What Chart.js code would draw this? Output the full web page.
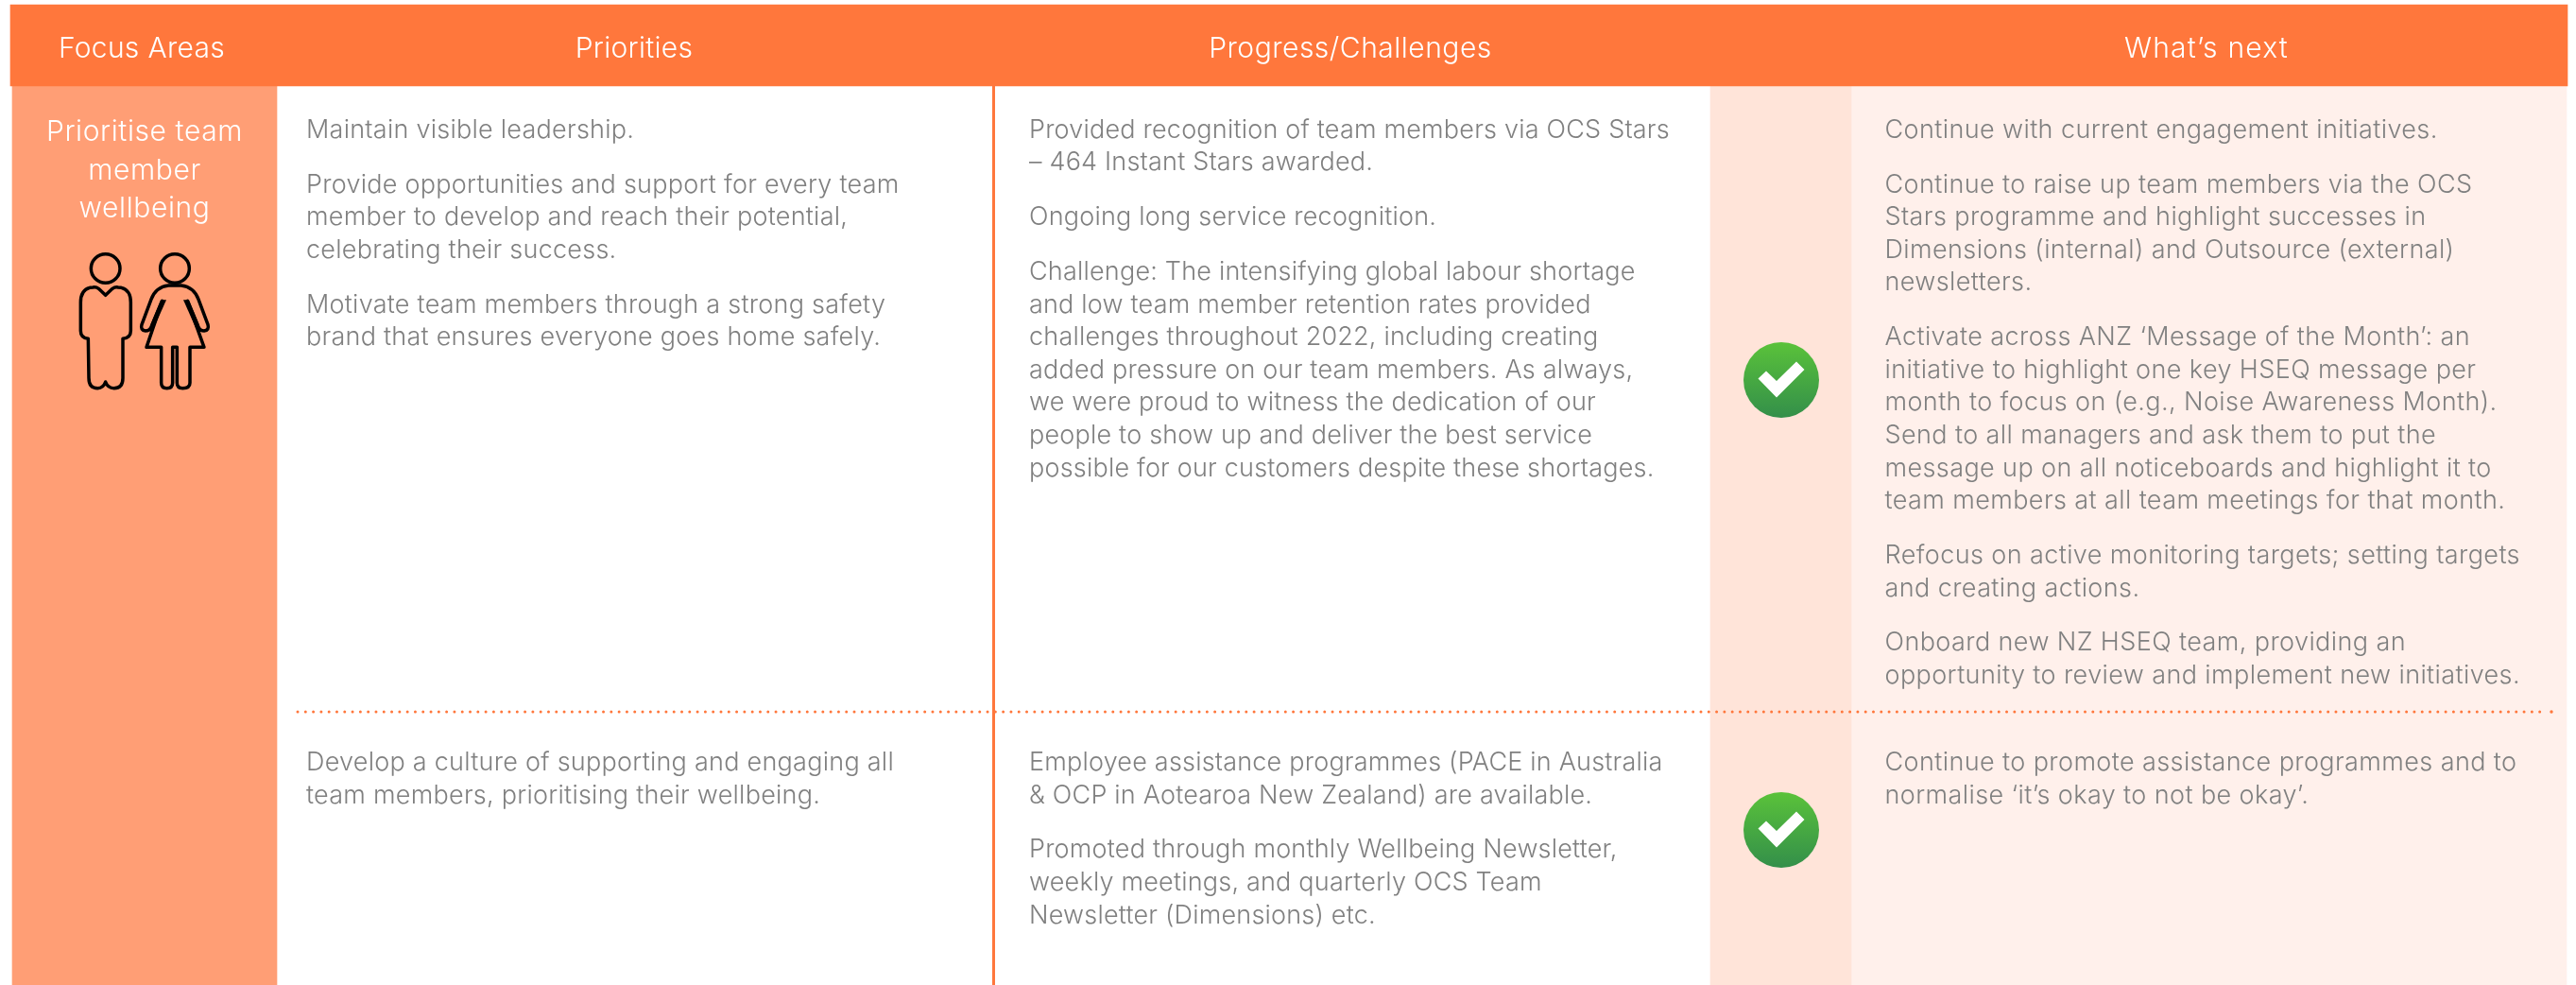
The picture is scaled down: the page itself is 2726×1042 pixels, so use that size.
<!DOCTYPE html>
<html>
<head>
<meta charset="utf-8">
<title>Focus areas</title>
<script src="https://cdn.jsdelivr.net/npm/chart.js@4"></script>
<style>
    html, body { margin: 0; padding: 0; background: #fff; }
    canvas { display: block; }
</style>
</head>
<body>
<canvas id="chart" width="2726" height="1042"></canvas>
<script>
// --- table content ---
const columnHeaders = ['Focus Areas', 'Priorities', 'Progress/Challenges', 'What’s next'];
const focusArea = ['Prioritise team', 'member', 'wellbeing'];
const ratingRows = ['row1', 'row2'];

// every cell is a list of paragraphs, every paragraph a list of lines
const prioritiesRow1 = [
    ['Maintain visible leadership.'],
    ['Provide opportunities and support for every team', 'member to develop and reach their potential,', 'celebrating their success.'],
    ['Motivate team members through a strong safety', 'brand that ensures everyone goes home safely.']
];
const prioritiesRow2 = [
    ['Develop a culture of supporting and engaging all', 'team members, prioritising their wellbeing.']
];
const progressRow1 = [
    ['Provided recognition of team members via OCS Stars', '– 464 Instant Stars awarded.'],
    ['Ongoing long service recognition.'],
    ['Challenge: The intensifying global labour shortage', 'and low team member retention rates provided', 'challenges throughout 2022, including creating', 'added pressure on our team members. As always,', 'we were proud to witness the dedication of our', 'people to show up and deliver the best service', 'possible for our customers despite these shortages.']
];
const progressRow2 = [
    ['Employee assistance programmes (PACE in Australia', '& OCP in Aotearoa New Zealand) are available.'],
    ['Promoted through monthly Wellbeing Newsletter,', 'weekly meetings, and quarterly OCS Team', 'Newsletter (Dimensions) etc.']
];
const nextRow1 = [
    ['Continue with current engagement initiatives.'],
    ['Continue to raise up team members via the OCS', 'Stars programme and highlight successes in', 'Dimensions (internal) and Outsource (external)', 'newsletters.'],
    ['Activate across ANZ ‘Message of the Month’: an', 'initiative to highlight one key HSEQ message per', 'month to focus on (e.g., Noise Awareness Month).', 'Send to all managers and ask them to put the', 'message up on all noticeboards and highlight it to', 'team members at all team meetings for that month.'],
    ['Refocus on active monitoring targets; setting targets', 'and creating actions.'],
    ['Onboard new NZ HSEQ team, providing an', 'opportunity to review and implement new initiatives.']
];
const nextRow2 = [
    ['Continue to promote assistance programmes and to', 'normalise ‘it’s okay to not be okay’.']
];

// --- layout, in picture pixels (the two scales run 0..2726 and 0..1042) ---
const WIDTH = 2726, HEIGHT = 1042;
const headerBand = { x0: 11, x1: 2717, y0: 5, y1: 91 };
const bodyBands = [
    { x0: 13, x1: 293, color: '#FF9E75' },
    { x0: 1810, x1: 1959, color: '#FFE4D9' },
    { x0: 1959, x1: 2716, color: '#FFF0EB' }
];
const headerCentres = [150, 671, 1429, 2335];
const headerSpacing = ['0.3px', '0.3px', '0.5px', '1.2px'];
const focusCentre = 153;
const focusBaselines = [149, 190, 230];
const cellCols = [
    { x: 324, spacing: '0.25px', row1: prioritiesRow1, row2: prioritiesRow2 },
    { x: 1089, spacing: '0.2px', row1: progressRow1, row2: progressRow2 },
    { x: 1994.5, spacing: '0.4px', row1: nextRow1, row2: nextRow2 }
];
const ROW1_TOP = 145.7, ROW2_TOP = 815, LINE_H = 34.6, PARA_H = 57.8;
const ratingCentres = { row1: { x: 1885, y: 402 }, row2: { x: 1885, y: 878 } };

const ORANGE = '#FF773C';
const TEXT_GREY = '#808080';
const BODY_FONT = '350 27px Inter';

// green tick badge, used as a point style
function makeBadge() {
    const c = document.createElement('canvas');
    c.width = c.height = 82;
    const g = c.getContext('2d');
    const grad = g.createLinearGradient(0, 1, 0, 81);
    grad.addColorStop(0, '#5AC23A');
    grad.addColorStop(1, '#338F4A');
    g.fillStyle = grad;
    g.beginPath();
    g.arc(41, 41, 40, 0, Math.PI * 2);
    g.fill();
    g.fillStyle = '#fff';
    g.beginPath();
    [[-24.5, -1.5], [-16, -9.5], [-5, 1], [16, -19.5], [24.5, -11], [-5, 18.5]].forEach(p => g.lineTo(41 + p[0], 41 + p[1]));
    g.closePath();
    g.fill();
    return c;
}

function floatingBar(x0, x1, y0, y1, color, label) {
    return {
        type: 'bar',
        label: label,
        data: [{ x: [x0, x1], y: (y0 + y1) / 2 }],
        backgroundColor: color,
        barThickness: y1 - y0,
        grouped: false,
        order: 3
    };
}

// people pictogram, traced at 3x in a box that starts at (70,260)
const manPath = 'M125 157 L103 136 Q95 130 85 132 L75 133 Q46 140 46 180 L46 270 Q46 292 70 295 L72 420 Q72 452 100 452 Q118 452 125 432 Q132 452 152 452 Q180 452 180 420 L180 295 Q205 292 205 270 L205 180 Q205 140 175 133 L165 132 Q155 130 147 136 Z';
const womanPath = 'M345 126 L325 126 Q285 130 270 170 L240 250 Q235 268 252 270 Q265 270 270 258 L305 175 L255 322 L302 322 L302 435 Q302 452 320 452 Q338 452 338 435 L338 322 L352 322 L352 435 Q352 452 370 452 Q393 452 393 435 L393 322 L438 322 L385 175 L420 258 Q425 270 438 270 Q455 268 450 250 L420 170 Q405 130 365 126 Z';

const tablePlugin = {
    id: 'tableText',
    afterDatasetsDraw(chart) {
        const ctx = chart.ctx;
        const xs = chart.scales.x, ys = chart.scales.y;
        ctx.save();
        ctx.textBaseline = 'alphabetic';

        // header + focus labels
        ctx.fillStyle = '#fff';
        ctx.textAlign = 'center';
        ctx.font = '300 30px Inter';
        columnHeaders.forEach((t, i) => {
            ctx.letterSpacing = headerSpacing[i];
            ctx.fillText(t, xs.getPixelForValue(headerCentres[i]), ys.getPixelForValue(60.5));
        });
        ctx.letterSpacing = '0.6px';
        focusArea.forEach((t, i) => ctx.fillText(t, xs.getPixelForValue(focusCentre), ys.getPixelForValue(focusBaselines[i])));

        // body cells
        ctx.fillStyle = TEXT_GREY;
        ctx.textAlign = 'left';
        ctx.font = BODY_FONT;
        cellCols.forEach(col => {
            ctx.letterSpacing = col.spacing;
            [[col.row1, ROW1_TOP], [col.row2, ROW2_TOP]].forEach(([paragraphs, top]) => {
                let y = top;
                paragraphs.forEach(lines => {
                    lines.forEach((line, i) => {
                        ctx.fillText(line, xs.getPixelForValue(col.x), ys.getPixelForValue(y));
                        if (i < lines.length - 1) y += LINE_H;
                    });
                    y += PARA_H;
                });
            });
        });
        ctx.letterSpacing = '0px';

        // pictogram
        ctx.translate(xs.getPixelForValue(70), ys.getPixelForValue(260));
        ctx.scale(1 / 3, 1 / 3);
        ctx.strokeStyle = '#000';
        ctx.fillStyle = '#000';
        ctx.lineWidth = 10.5;
        ctx.lineJoin = 'round';
        ctx.stroke(new Path2D(manPath));
        ctx.stroke(new Path2D(womanPath));
        [125, 345].forEach(cx => {
            ctx.beginPath();
            ctx.arc(cx, 72, 46, 0, Math.PI * 2);
            ctx.stroke();
        });
        ctx.fill(new Path2D('M300 172 L318 172 L278 262 L268 250 Z'));
        ctx.fill(new Path2D('M390 172 L372 172 L412 262 L422 250 Z'));
        ctx.restore();
    }
};

new Chart(document.getElementById('chart'), {
    type: 'bar',
    data: {
        datasets: [
            floatingBar(headerBand.x0, headerBand.x1, headerBand.y0, headerBand.y1, ORANGE, 'header'),
            ...bodyBands.map((b, i) => floatingBar(b.x0, b.x1, headerBand.y1, HEIGHT, b.color, 'band' + i)),
            {
                type: 'line',
                label: 'column rule',
                data: [{ x: 1051.5, y: headerBand.y1 }, { x: 1051.5, y: HEIGHT }],
                borderColor: ORANGE,
                borderWidth: 3,
                pointRadius: 0,
                order: 2
            },
            {
                type: 'line',
                label: 'row rule',
                data: [{ x: 315, y: 753 }, { x: 2689, y: 753 }],
                borderColor: ORANGE,
                borderWidth: 3,
                borderDash: [0, 8.296],
                borderCapStyle: 'round',
                pointRadius: 0,
                order: 1
            },
            {
                type: 'scatter',
                label: 'row rule end',
                data: [{ x: 2700, y: 753 }],
                backgroundColor: ORANGE,
                borderWidth: 0,
                pointRadius: 1.7,
                order: 1
            },
            {
                type: 'scatter',
                label: 'rating',
                data: ratingRows.map(r => ratingCentres[r]),
                pointStyle: makeBadge(),
                order: 0
            }
        ]
    },
    options: {
        indexAxis: 'y',
        responsive: false,
        animation: false,
        layout: { padding: 0, autoPadding: false },
        plugins: { legend: { display: false }, tooltip: { enabled: false } },
        scales: {
            x: { type: 'linear', min: 0, max: WIDTH, display: false, offset: false },
            y: { type: 'linear', min: 0, max: HEIGHT, reverse: true, display: false, offset: false }
        }
    },
    plugins: [tablePlugin]
});
</script>
</body>
</html>
